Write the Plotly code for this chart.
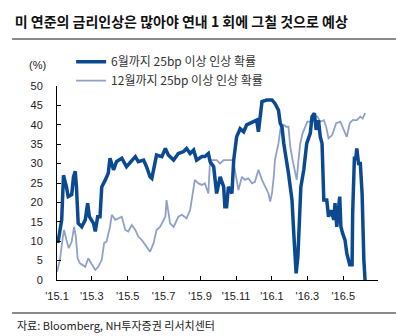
import pandas as pd
import plotly.graph_objects as go

START = "2015-01-01"

# Series 1: probability of >=25bp hike by June (days since 2015-01-01, %)
jun_days = [0, 2, 8, 11, 16, 19, 25, 28, 31, 33, 36, 42, 48, 52, 55, 62, 65, 69, 73, 76,
            82, 87, 90, 96, 101, 110, 118, 127, 133, 138, 147, 152, 158, 161, 165, 169,
            178, 184, 189, 198, 206, 215, 220, 226, 232, 237, 246, 251, 257, 260,
            266, 271, 277, 283, 285, 288, 291, 297, 300, 305, 311, 317, 322, 328, 334,
            339, 342, 348, 356, 365, 370, 376, 379, 382, 385, 390, 393, 396, 399, 402,
            404, 406, 409, 412, 414, 419, 424, 430, 433, 437, 440, 444, 447, 450, 453,
            458, 461, 465, 470, 472, 475, 480, 482, 485, 489, 492, 497, 501, 502, 505,
            507, 509, 512, 515, 518, 521, 523]
jun_vals = [10, 10, 15.5, 27, 24, 21.5, 22, 26.6, 28, 24, 14.6, 13.7, 15.5, 19.8, 16.3,
            14.6, 12.5, 16.3, 16.3, 24, 25.8, 27.5, 31.4, 28.4, 30.5, 31.4, 29.2, 30.9,
            31.8, 30.5, 30.9, 29.2, 26.6, 26.2, 29.2, 32.2, 31.8, 33.9, 32.2, 30.9, 32.6,
            33.1, 33.9, 32.6, 33.5, 30.9, 31.8, 31.8, 32.6, 30.5,
            29.2, 22.3, 26.6, 24, 18.9, 18.9, 24, 22.3, 30.9, 36.9, 39, 38.2, 40, 40.4,
            40.8, 41.2, 38.2, 46, 46.4, 46.4, 45.5, 43.8, 40.4, 39.5, 35.2, 30.9, 27.5,
            24, 20.6, 12, 5.2, 1.7, 6, 15.5, 24, 28.4, 35.2, 37.8, 42.1, 43, 38.7, 41.2,
            36.9, 35.2, 20.6, 20.6, 16.3, 18, 15.5, 19.8, 13.7, 21.5, 13.7, 12, 10.3, 6.9,
            3.9, 3.9, 17.2, 31.8, 30.9, 33.9, 30, 30, 22.3, 5.2, 0]

# Series 2: probability of >=25bp hike by December
dec_days = [0, 5, 10, 12, 16, 20, 25, 29, 32, 35, 39, 48, 53, 59, 65, 70, 76, 80, 84, 90,
            93, 99, 104, 110, 116, 121, 127, 133, 138, 144, 152, 158, 164, 169, 175, 184,
            186, 192, 198, 206, 212, 220, 226, 232, 234, 240, 246, 251, 257, 259,
            260, 266, 271, 277, 283, 288, 294, 299, 302, 308, 314, 319, 325, 331, 336,
            342, 348, 353, 359, 362, 365, 368, 370, 376, 380, 385, 389, 393, 396, 400,
            404, 407, 410, 413, 417, 421, 425, 430, 436, 438, 442, 447, 453, 457, 461,
            467, 474, 481, 487, 492, 497, 502, 509, 515, 519, 523]
dec_vals = [2.1, 5.2, 11.2, 12.9, 10.3, 8.2, 9.9, 13.7, 11.2, 5.6, 4.3, 3.4, 5.6, 3.9, 2.6,
            3.4, 5.2, 9.5, 9.9, 13.7, 16.8, 15.5, 15.9, 16.3, 12.9, 12.5, 14.2, 12.9, 11.2,
            10.3, 8.6, 7.3, 9.5, 12.9, 13.7, 16.3, 20.6, 14.6, 13.7, 16.3, 16.8, 15.9, 18,
            24, 25.8, 24.9, 24.5, 24.9, 22.3, 28.4,
            30.9, 30.9, 30.9, 30, 30.9, 30.9, 30.9, 30.9, 28.4, 23.2, 26.6, 25.8, 26.2,
            24.9, 25.3, 28.4, 25.8, 24, 22.3, 20.2, 22.3, 26.6, 30.9, 35.2, 39.5, 40,
            39.5, 39.5, 34.4, 30.9, 27.5, 25.8, 30.9, 35.2, 37.8, 39.5, 40.8, 40.8, 41.2,
            42.5, 42.1, 40.8, 41.2, 39.5, 36.5, 37.3, 40.4, 40.8, 38.7, 36.9, 40.4, 41.2,
            41.2, 42.1, 41.6, 43]

tick_dates = ["2015-01-01", "2015-03-01", "2015-05-01", "2015-07-01", "2015-09-01",
              "2015-11-01", "2016-01-01", "2016-03-01", "2016-05-01"]
tick_labels = ["'15.1", "'15.3", "'15.5", "'15.7", "'15.9", "'15.11", "'16.1", "'16.3", "'16.5"]

series_names = ["6월까지 25bp 이상 인상 확률", "12월까지 25bp 이상 인상 확률"]

t0 = pd.Timestamp(START)
jun_x = [t0 + pd.Timedelta(days=d) for d in jun_days]
dec_x = [t0 + pd.Timedelta(days=d) for d in dec_days]

KR = "Noto Sans CJK KR"
fig = go.Figure()
fig.add_trace(go.Scatter(x=dec_x, y=dec_vals, mode="lines", name=series_names[1],
                         line=dict(color="#8fa0c9", width=1.8), legendrank=2))
fig.add_trace(go.Scatter(x=jun_x, y=jun_vals, mode="lines", name=series_names[0],
                         line=dict(color="#0b4a92", width=3.5), legendrank=1))

fig.update_layout(
    width=420, height=336,
    margin=dict(l=57, r=42, t=86, b=56),
    plot_bgcolor="white", paper_bgcolor="white",
    font=dict(family="Liberation Sans, Arial", size=11, color="#222"),
    title=dict(text="<b>미 연준의 금리인상은 많아야 연내 1 회에 그칠 것으로 예상</b>",
               font=dict(family=KR, size=14, color="#111"),
               xref="container", yref="container", x=0.035, xanchor="left",
               y=1 - 22 / 336, yanchor="middle"),
    legend=dict(x=0.044, xanchor="left", y=1.2, yanchor="top",
                font=dict(family=KR, size=12, color="#333"),
                bgcolor="rgba(0,0,0,0)", tracegroupgap=0),
    showlegend=True,
    xaxis=dict(type="date", range=["2015-01-01", "2016-06-29"],
               tickvals=tick_dates, ticktext=tick_labels,
               ticks="inside", ticklen=4, tickcolor="#000",
               showline=True, linecolor="#000", linewidth=1,
               showgrid=False, zeroline=False, ticklabelstandoff=6,
               tickfont=dict(size=11, color="#222")),
    yaxis=dict(range=[0, 50], dtick=5, ticks="inside", ticklen=4, tickcolor="#000",
               showline=True, linecolor="#000", linewidth=1,
               showgrid=False, zeroline=False, ticklabelstandoff=11,
               tickfont=dict(size=11, color="#222")),
    shapes=[
        dict(type="line", xref="paper", yref="paper", x0=-0.140, x1=1.056,
             y0=1.242, y1=1.242, line=dict(color="#8a8a8a", width=2)),
        dict(type="line", xref="paper", yref="paper", x0=-0.140, x1=1.056,
             y0=-0.170, y1=-0.170, line=dict(color="#8a8a8a", width=2)),
    ],
    annotations=[
        dict(text="(%)", xref="paper", yref="paper", x=-0.062, y=1.108,
             showarrow=False, xanchor="center", yanchor="middle",
             font=dict(size=11, color="#222")),
        dict(text="자료: Bloomberg, NH투자증권 리서치센터", xref="paper", yref="paper",
             x=-0.131, y=-0.232, showarrow=False, xanchor="left", yanchor="middle",
             font=dict(family=KR, size=11, color="#222")),
    ],
)

fig.write_html("out.html")
